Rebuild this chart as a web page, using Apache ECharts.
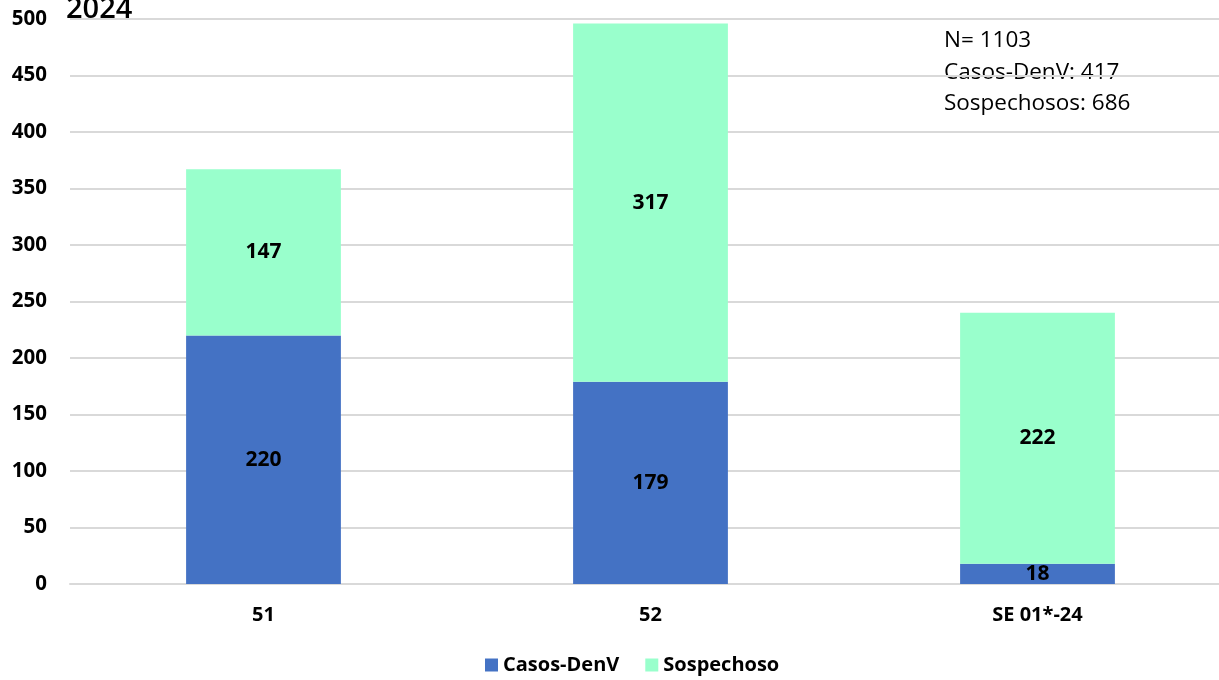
<!DOCTYPE html>
<html>
<head>
<meta charset="utf-8">
<script src="https://cdn.jsdelivr.net/npm/echarts@6/dist/echarts.min.js"></script>
<style>
  html, body { margin: 0; padding: 0; background: #fff; }
  #chart { width: 1219px; height: 680px; }
</style>
</head>
<body>
<div id="chart"></div>
<script>
// semanas epidemiologicas
const categories = ['51', '52', 'SE 01*-24']
const casosDenV = [220, 179, 18]
const sospechoso = [147, 317, 222]
const notas = ['N= 1103', 'Casos-DenV: 417', 'Sospechosos: 686']

const fuente = '"Open Sans", "Noto Sans", sans-serif'
const chart = echarts.init(document.getElementById('chart'))

const etiqueta = {
  show: true,
  position: 'inside',
  color: '#000',
  fontWeight: 'bold',
  fontSize: 21,
  fontFamily: fuente
}

let option = {
  animation: false,
  textStyle: { fontFamily: fuente },
  grid: { left: 70, top: 19, right: -12, bottom: 96, containLabel: false, outerBoundsMode: 'none' },
  graphic: [
    {
      type: 'text',
      left: 66,
      top: -5,
      style: { text: '2024', fontSize: 29, fontWeight: 600, fontFamily: fuente, fill: '#000' }
    },
    {
      type: 'text',
      left: 944,
      top: 25,
      style: {
        text: notas.join('\n'),
        fontSize: 22.5,
        lineHeight: 31.5,
        fontFamily: fuente,
        fill: '#000'
      }
    }
  ],
  legend: {
    bottom: 0,
    left: 480,
    itemWidth: 13,
    itemHeight: 13,
    itemGap: 26,
    icon: 'rect',
    textStyle: { fontSize: 20, fontWeight: 'bold', color: '#000', fontFamily: fuente },
    data: ['Casos-DenV', 'Sospechoso']
  },
  xAxis: {
    type: 'category',
    data: categories,
    axisLine: { lineStyle: { color: '#d9d9d9', width: 2 } },
    axisTick: { show: false },
    axisLabel: { margin: 21, fontSize: 20, fontWeight: 'bold', color: '#000', fontFamily: fuente }
  },
  yAxis: {
    type: 'value',
    min: 0,
    max: 500,
    interval: 50,
    axisLine: { show: false },
    axisTick: { show: false },
    splitLine: { lineStyle: { color: '#d9d9d9', width: 2 } },
    axisLabel: { margin: 23, fontSize: 20.5, fontWeight: 'bold', color: '#000', fontFamily: fuente }
  },
  series: [
    {
      name: 'Casos-DenV',
      type: 'bar',
      stack: 'total',
      barWidth: '40%',
      itemStyle: { color: '#4472c4' },
      label: etiqueta,
      data: casosDenV
    },
    {
      name: 'Sospechoso',
      type: 'bar',
      stack: 'total',
      barWidth: '40%',
      itemStyle: { color: '#99ffcc' },
      label: etiqueta,
      data: sospechoso
    }
  ]
}
chart.setOption(option)
</script>
</body>
</html>
